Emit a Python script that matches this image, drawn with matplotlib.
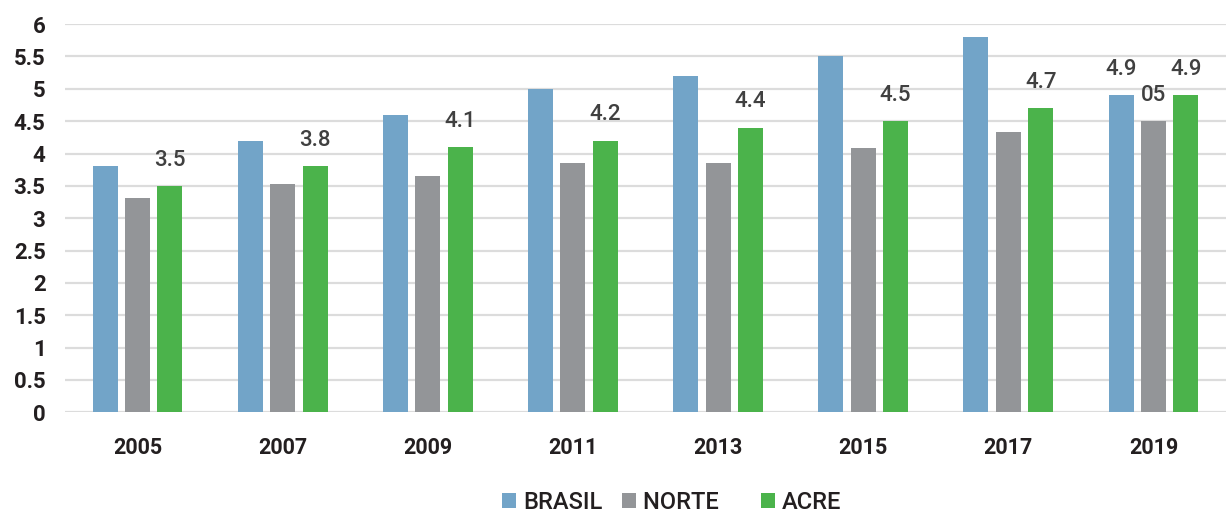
import numpy as np
import matplotlib.pyplot as plt

anos = ['2005', '2007', '2009', '2011', '2013', '2015', '2017', '2019']
brasil = [3.8, 4.2, 4.6, 5.0, 5.2, 5.5, 5.8, 4.9]
norte = [3.31, 3.53, 3.66, 3.85, 3.86, 4.08, 4.34, 4.5]
acre = [3.5, 3.8, 4.1, 4.2, 4.4, 4.5, 4.7, 4.9]
rotulos_acre = ['3.5', '3.8', '4.1', '4.2', '4.4', '4.5', '4.7', '4.9']

plt.rcParams['font.family'] = ['Roboto', 'DejaVu Sans']

fig = plt.figure(figsize=(12.26, 5.14), dpi=100)
ax = fig.add_axes([0.053, 0.198, 0.947, 0.755])

x = np.arange(len(anos))
w = 0.172
off = 0.223
cores = ['#72a4c8', '#939598', '#4bb34b']

ax.bar(x - off, brasil, w, color=cores[0], label='BRASIL', zorder=3)
ax.bar(x, norte, w, color=cores[1], label='NORTE    ', zorder=3)
ax.bar(x + off, acre, w, color=cores[2], label='ACRE', zorder=3)

# rotulos das barras do Acre
rot = dict(xytext=(0, 11), textcoords='offset points', ha='center', va='bottom',
           fontsize=16, color='#404040', fontweight='medium')
for xi, v, t in zip(x + off, acre, rotulos_acre):
    ax.annotate(t, (xi, v), **rot)
# 2019 tem rotulos nas tres barras
ax.annotate('4.9', (x[-1] - off, brasil[-1]), **rot)
ax.annotate('05', (x[-1], norte[-1]), **rot)

ax.set_xlim(-0.5, len(anos) - 0.5)
ax.set_ylim(0, 6)
ax.set_yticks(np.arange(0, 6.01, 0.5))
ax.set_yticklabels(['0', '0.5', '1', '1.5', '2', '2.5', '3', '3.5', '4', '4.5', '5', '5.5', '6'])
ax.set_xticks(x)
ax.set_xticklabels(anos)
ax.tick_params(axis='y', length=0, labelsize=16, labelcolor='#231f20', pad=14)
ax.tick_params(axis='x', length=0, labelsize=15.5, labelcolor='#231f20', pad=18)
for lab in ax.get_yticklabels() + ax.get_xticklabels():
    lab.set_fontweight('bold')

ax.yaxis.grid(True, color='#dcdcdc', linewidth=1.6, zorder=0)
for s in ax.spines.values():
    s.set_visible(False)

leg = fig.legend(loc='center', bbox_to_anchor=(0.548, 0.022), ncol=3,
                 frameon=False, fontsize=17, handlelength=0.6, handleheight=0.6,
                 handletextpad=0.3, columnspacing=0.8, borderpad=0)
for t in leg.get_texts():
    t.set_color('#231f20')
    t.set_fontweight('medium')

fig.savefig('out.png', dpi=100)
